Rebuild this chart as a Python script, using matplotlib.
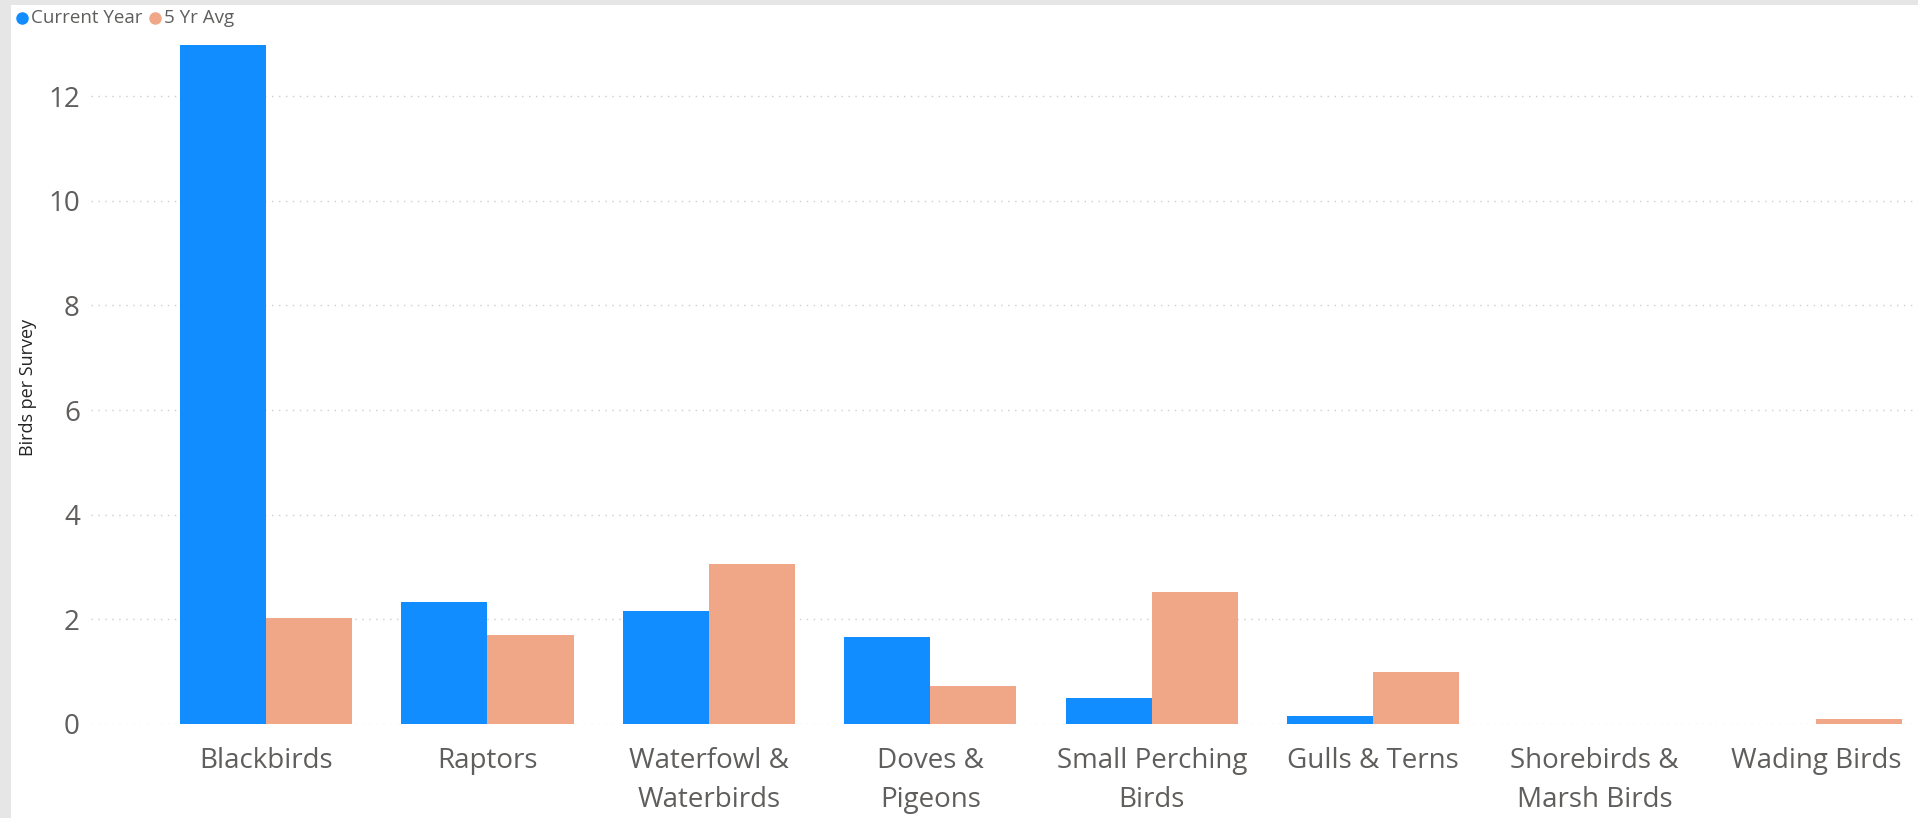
import matplotlib
matplotlib.use("Agg")
import matplotlib.pyplot as plt
from matplotlib.patches import Rectangle
from matplotlib.lines import Line2D
import numpy as np

categories = ["Blackbirds", "Raptors", "Waterfowl &\nWaterbirds", "Doves &\nPigeons",
              "Small Perching\nBirds", "Gulls & Terns", "Shorebirds &\nMarsh Birds", "Wading Birds"]
current_year = [12.97, 2.33, 2.16, 1.66, 0.49, 0.16, 0.0, 0.0]
five_yr_avg = [2.02, 1.70, 3.06, 0.73, 2.52, 0.99, 0.0, 0.09]
yticks = [0, 2, 4, 6, 8, 10, 12]

BLUE = "#118DFF"
ORANGE = "#F0A787"
TXT = "#605E5C"

plt.rcParams['font.family'] = ['Open Sans', 'DejaVu Sans']

W, H = 1918, 818
fig = plt.figure(figsize=(W / 100, H / 100), dpi=100)
fig.patch.set_facecolor("#E6E6E6")
fig.patches.append(Rectangle((11 / W, 0), 1 - 11 / W, 1 - 5 / H, transform=fig.transFigure,
                             facecolor="white", edgecolor="none", zorder=-5))

ax_left, ax_right, ax_bottom, ax_top = 91, 1918, 724, 38
ax = fig.add_axes([ax_left / W, 1 - ax_bottom / H, (ax_right - ax_left) / W, (ax_bottom - ax_top) / H])
ax.set_facecolor("none")
ax.set_zorder(2)

x = np.arange(len(categories))
bw = 0.389
ax.bar(x - bw / 2, current_year, width=bw, color=BLUE, zorder=3, linewidth=0)
ax.bar(x + bw / 2, five_yr_avg, width=bw, color=ORANGE, zorder=3, linewidth=0)

ax.set_xlim(-0.79, 7.46)
ax.set_ylim(0, 13.11)
ax.set_yticks(yticks)
ax.set_yticklabels([str(t) for t in yticks])
ax.set_xticks(x)
ax.set_xticklabels(categories, linespacing=1.53)

for s in ax.spines.values():
    s.set_visible(False)
ax.tick_params(axis='both', length=0, colors=TXT, labelsize=20)
ax.tick_params(axis='x', pad=16.5)
ax.tick_params(axis='y', pad=8)
ax.grid(axis='y', color="#CDCDCD", linestyle=(0, (1, 4)), linewidth=1.0, zorder=0)
ax.set_axisbelow(True)

fig.text(28 / W, 1 - 387 / H, "Birds per Survey", rotation=90, ha='center', va='center',
         fontsize=13, color="#252423", zorder=3)

# legend
leg_y = 1 - 18 / H
fig.add_artist(Line2D([22 / W], [leg_y], marker='o', markersize=8, color=BLUE,
                      linestyle='none', transform=fig.transFigure, zorder=3))
fig.text(31 / W, leg_y, "Current Year", ha='left', va='center', fontsize=13.5, color=TXT, zorder=3)
fig.add_artist(Line2D([155 / W], [leg_y], marker='o', markersize=8, color=ORANGE,
                      linestyle='none', transform=fig.transFigure, zorder=3))
fig.text(164 / W, leg_y, "5 Yr Avg", ha='left', va='center', fontsize=13.5, color=TXT, zorder=3)

fig.savefig("out.png", dpi=100, facecolor=fig.get_facecolor())
